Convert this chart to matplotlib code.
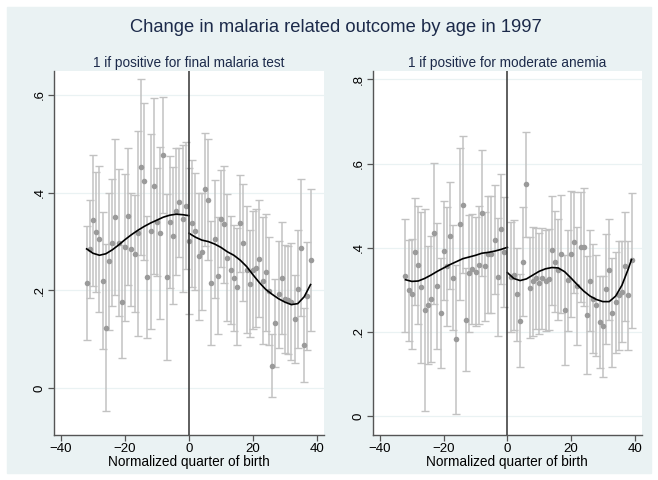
import numpy as np
import matplotlib
matplotlib.use("Agg")
import matplotlib.pyplot as plt
from matplotlib.patches import Rectangle

plt.rcParams["font.family"] = ["Liberation Sans", "DejaVu Sans"]

TITLE = "Change in malaria related outcome by age in 1997"
SUB_LEFT = "1 if positive for final malaria test"
SUB_RIGHT = "1 if positive for moderate anemia"
XLABEL = "Normalized quarter of birth"

# ---- panel 1: malaria test (bin means, CI half-widths) ----
mal_x = np.arange(-32, 39)
mal_y = [.215, .285, .344, .320, .305, .220, .124, .260, .298, .350, .298, .177,
         .288, .352, .284, .275, .317, .452, .423, .227, .321, .414, .340, .318,
         .477, .227, .340, .312, .362, .380, .347, .373,
         .301, .337, .321, .270, .279, .407, .386, .215, .305, .230, .347, .335,
         .267, .242, .226, .208, .337, .298, .242, .214, .242, .246, .265, .220,
         .237, .199, .046, .133, .192, .226, .182, .180, .177, .141, .203, .287,
         .088, .189, .262]
mal_ci = [.116, .100, .134, .123, .150, .140, .170, .140, .130, .160, .150, .115,
          .150, .140, .115, .120, .210, .180, .160, .125, .200, .180, .110, .176,
          .118, .170, .136, .140, .130, .111, .150, .130,
          .150, .130, .120, .130, .120, .116, .124, .127, .120, .120, .100, .120,
          .130, .110, .108, .120, .100, .120, .130, .110, .120, .120, .120, .130,
          .120, .110, .064, .090, .110, .115, .110, .110, .120, .090, .120, .140,
          .076, .110, .146]
mal_fit_l_x = [-32, -30, -28, -26, -24, -22, -20, -18, -16, -14, -12, -10, -8, -6, -4, -2, 0]
mal_fit_l_y = [.285, .276, .272, .275, .283, .293, .304, .314, .323, .331, .338, .344,
               .350, .354, .356, .355, .353]
mal_fit_r_x = [0, 2, 4, 6, 8, 10, 12, 14, 16, 18, 20, 22, 24, 26, 28, 30, 32, 34, 36, 38]
mal_fit_r_y = [.317, .309, .303, .300, .295, .288, .279, .272, .262, .249, .232, .216,
               .202, .192, .183, .176, .171, .173, .187, .212]

# ---- panel 2: moderate anemia ----
ane_x = np.concatenate([np.arange(-32, 0), np.arange(1, 40)])
ane_y = [.334, .299, .290, .391, .360, .306, .251, .263, .278, .434, .309, .245,
         .393, .356, .429, .329, .182, .456, .502, .229, .339, .350, .343, .360,
         .482, .356, .384, .384, .419, .331, .445, .390,
         .330, .335, .289, .227, .367, .551, .305, .320, .328, .316, .328, .322,
         .325, .394, .367, .348, .385, .252, .323, .386, .413, .310, .402, .402,
         .240, .322, .279, .263, .224, .213, .302, .348, .246, .271, .287, .296,
         .356, .287, .370]
ane_ci = [.134, .120, .130, .127, .140, .180, .240, .140, .150, .167, .150, .130,
          .117, .142, .127, .124, .176, .180, .163, .122, .140, .130, .130, .140,
          .150, .130, .140, .140, .130, .140, .130, .130,
          .130, .130, .110, .110, .130, .125, .120, .130, .120, .120, .120, .120,
          .120, .130, .120, .120, .140, .130, .120, .150, .120, .140, .130, .140,
          .140, .120, .130, .120, .110, .120, .130, .120, .130, .120, .130, .120,
          .130, .130, .160]
ane_fit_l_x = [-32, -30, -28, -26, -24, -22, -20, -18, -16, -14, -12, -10, -8, -6, -4, -2, 0]
ane_fit_l_y = [.324, .320, .321, .327, .335, .344, .352, .360, .367, .374, .378, .382,
               .387, .389, .392, .396, .401]
ane_fit_r_x = [0, 2, 4, 6, 8, 10, 12, 14, 16, 18, 20, 22, 24, 26, 28, 30, 32, 34, 36, 38, 39]
ane_fit_r_y = [.341, .327, .322, .326, .335, .344, .350, .353, .352, .343, .328, .312,
               .297, .285, .277, .272, .272, .285, .311, .350, .372]

BG = "#EAF2F3"
NAVY = "#1C2A4A"

fig = plt.figure(figsize=(6.58, 4.80), dpi=100)
fig.patch.set_facecolor("white")
fig.patches.append(Rectangle((7 / 658, 7 / 480), 644 / 658, 466 / 480,
                             transform=fig.transFigure, color=BG, zorder=-10))
fig.text(336 / 658, 1 - 28 / 480, TITLE, ha="center", va="center",
         fontsize=13.2, color=NAVY)


def panel(rect, sub, x, y, ci, fl, fr, ylim, yticks, ylabels):
    ax = fig.add_axes(rect)
    ax.set_facecolor("white")
    y = np.asarray(y)
    ci = np.asarray(ci)
    ax.errorbar(x, y, yerr=ci, fmt="none", ecolor="#C2C2C2", elinewidth=1.1,
                capsize=2.6, capthick=1.0, zorder=2)
    ax.plot(x, y, "o", color="#9A9A9A", ms=4.0, mec="none", zorder=3)
    ax.plot(fl[0], fl[1], color="black", lw=1.2, zorder=4)
    ax.plot(fr[0], fr[1], color="black", lw=1.2, zorder=4)
    ax.axvline(0, color="#333333", lw=1.1, zorder=5)
    ax.set_xlim(-42.3, 42.2)
    ax.set_ylim(*ylim)
    ax.set_xticks([-40, -20, 0, 20, 40])
    ax.set_yticks(yticks)
    ax.set_yticklabels(ylabels, rotation=90, va="center")
    for t in yticks:
        ax.axhline(t, color=BG, lw=0.9, zorder=0)
    for s in ("top", "right"):
        ax.spines[s].set_visible(False)
    for s in ("left", "bottom"):
        ax.spines[s].set_color("#555555")
        ax.spines[s].set_linewidth(1.0)
    ax.tick_params(direction="out", length=4, width=0.9, color="#555555",
                   labelsize=9.5, pad=2)
    ax.set_xlabel(XLABEL, fontsize=9.8, labelpad=0)
    ax.set_title(sub, fontsize=9.8, color=NAVY, pad=3)
    return ax


panel([53.7 / 658, 45.4 / 480, 270.3 / 658, 363.6 / 480], SUB_LEFT,
      mal_x, mal_y, mal_ci, (mal_fit_l_x, mal_fit_l_y), (mal_fit_r_x, mal_fit_r_y),
      (-0.095, 0.649), [0, .2, .4, .6], ["0", ".2", ".4", ".6"])
panel([372.7 / 658, 45.4 / 480, 269.0 / 658, 363.6 / 480], SUB_RIGHT,
      ane_x, ane_y, ane_ci, (ane_fit_l_x, ane_fit_l_y), (ane_fit_r_x, ane_fit_r_y),
      (-0.044, 0.82), [0, .2, .4, .6, .8], ["0", ".2", ".4", ".6", ".8"])

fig.savefig("out.png", dpi=100)
